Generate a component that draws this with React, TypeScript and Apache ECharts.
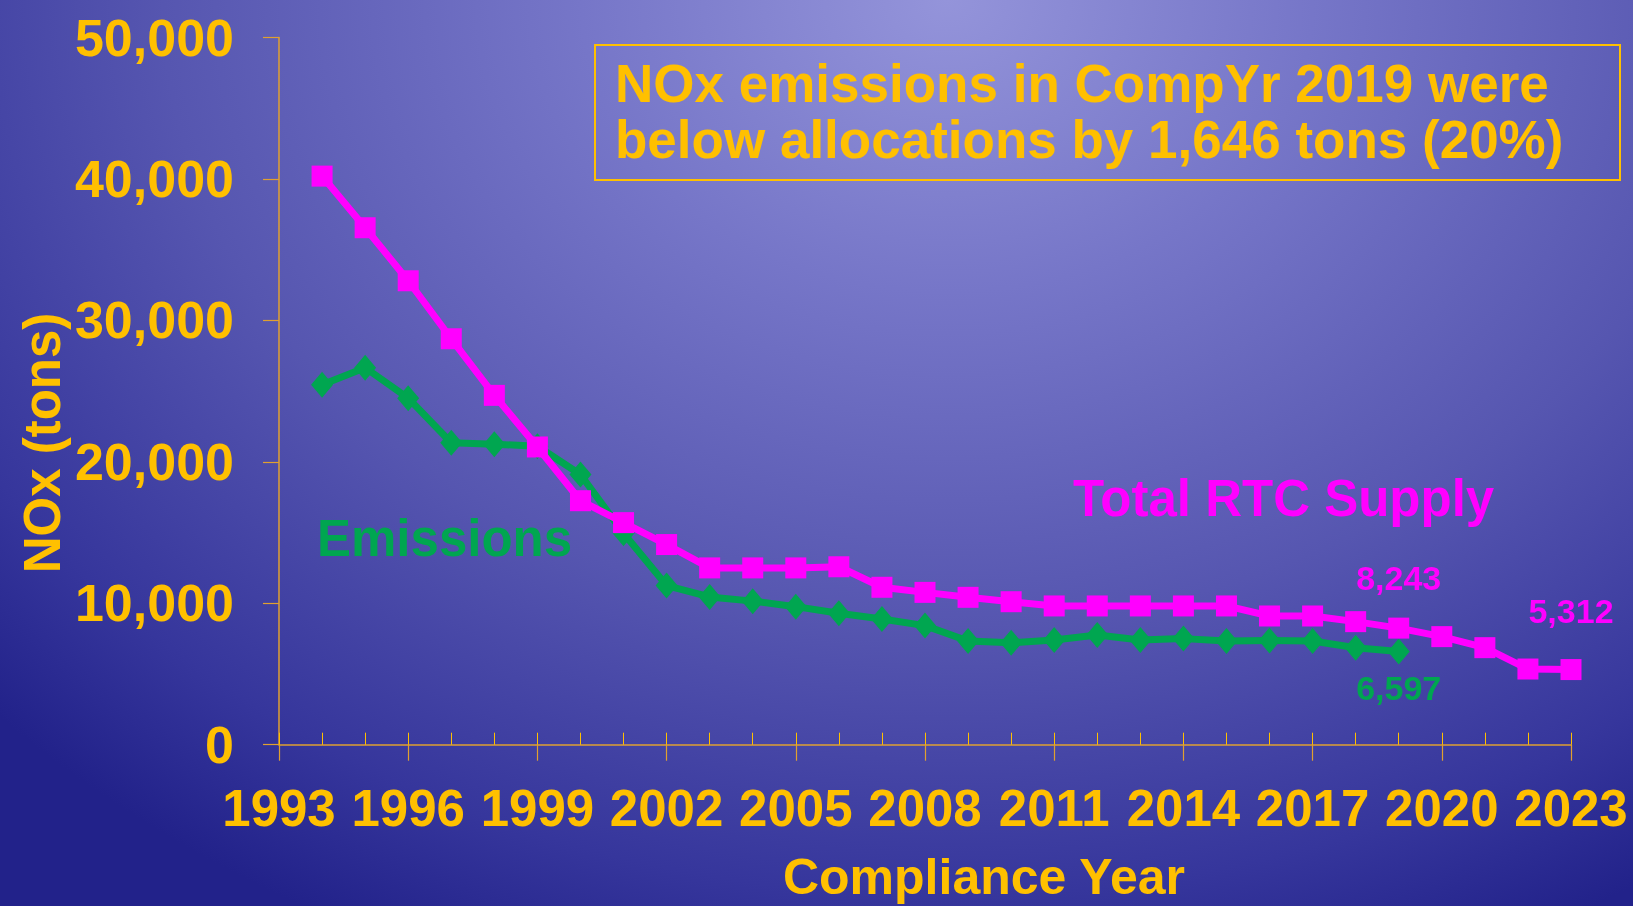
import React, { useEffect, useRef } from "react";
import * as echarts from "echarts";

const supplyYears = [1994, 1995, 1996, 1997, 1998, 1999, 2000, 2001, 2002, 2003, 2004, 2005, 2006, 2007, 2008, 2009, 2010, 2011, 2012, 2013, 2014, 2015, 2016, 2017, 2018, 2019, 2020, 2021, 2022, 2023];
const supplyValues = [40200, 36550, 32800, 28700, 24700, 21050, 17250, 15700, 14150, 12500, 12500, 12500, 12580, 11130, 10770, 10420, 10110, 9810, 9810, 9810, 9810, 9810, 9100, 9100, 8700, 8243, 7640, 6860, 5350, 5312];
const emissionYears = [1994, 1995, 1996, 1997, 1998, 1999, 2000, 2001, 2002, 2003, 2004, 2005, 2006, 2007, 2008, 2009, 2010, 2011, 2012, 2013, 2014, 2015, 2016, 2017, 2018, 2019];
const emissionValues = [25450, 26650, 24500, 21350, 21250, 21100, 19100, 14950, 11250, 10450, 10150, 9760, 9290, 8890, 8420, 7330, 7210, 7400, 7760, 7400, 7500, 7330, 7360, 7330, 6860, 6597];
const yTicks = [0, 10000, 20000, 30000, 40000, 50000];
const xLabelYears = [1993, 1996, 1999, 2002, 2005, 2008, 2011, 2014, 2017, 2020, 2023];

const GOLD = "#FFC000";
const AXIS = "#E0A030";
const PINK = "#FF00FF";
const GREEN = "#00A650";
const FONT = "'Liberation Sans', Arial, sans-serif";

export default function App() {
  const ref = useRef<HTMLDivElement>(null);
  useEffect(() => {
    if (!ref.current) return;
    const chart = echarts.init(ref.current, undefined, { renderer: "svg" });
    const fmt = (v: number) => v.toLocaleString("en-US");
    const supplyData = supplyYears.map((y, i) => {
      const item: any = { value: [y, supplyValues[i]] };
      if (y === 2019) item.label = { show: true, position: "top", distance: 23, formatter: () => fmt(supplyValues[i]) };
      if (y === 2023) item.label = { show: true, position: "top", distance: 31, formatter: () => fmt(supplyValues[i]) };
      return item;
    });
    const emissionData = emissionYears.map((y, i) => {
      const item: any = { value: [y, emissionValues[i]] };
      if (y === 2019) item.label = { show: true, position: "bottom", distance: 7, formatter: () => fmt(emissionValues[i]) };
      return item;
    });
    chart.setOption({
      animation: false,
      textStyle: { fontFamily: FONT },
      grid: { left: 279, right: 62, top: 37.5, bottom: 161.3 },
      xAxis: [
        {
          type: "value",
          min: 1993,
          max: 2023,
          interval: 3,
          axisLine: { show: true, lineStyle: { color: AXIS, width: 1.5 } },
          axisTick: { show: true, inside: false, length: 16, lineStyle: { color: AXIS, width: 1.2 } },
          axisLabel: {
            color: GOLD,
            fontSize: 51,
            fontWeight: "bold",
            fontFamily: FONT,
            margin: 38,
            formatter: (v: number) => (xLabelYears.includes(v) ? String(v) : ""),
          },
          splitLine: { show: false },
        },
        {
          type: "value",
          min: 1993,
          max: 2023,
          interval: 1,
          position: "bottom",
          axisLine: { show: false },
          axisTick: { show: true, inside: true, length: 12, lineStyle: { color: GOLD, width: 1 } },
          axisLabel: { show: false },
          splitLine: { show: false },
        },
      ],
      yAxis: {
        type: "value",
        min: 0,
        max: 50000,
        interval: 10000,
        axisLine: { show: true, lineStyle: { color: AXIS, width: 1.5 } },
        axisTick: { show: true, inside: false, length: 16, lineStyle: { color: AXIS, width: 1.2 } },
        axisLabel: {
          color: GOLD,
          fontSize: 52,
          fontWeight: "bold",
          fontFamily: FONT,
          margin: 45,
          formatter: (v: number) => (yTicks.includes(v) ? fmt(v) : ""),
        },
        splitLine: { show: false },
      },
      series: [
        {
          name: "Total RTC Supply",
          type: "line",
          xAxisIndex: 0,
          data: supplyData,
          symbol: "rect",
          symbolSize: 21,
          lineStyle: { color: PINK, width: 7 },
          itemStyle: { color: PINK },
          label: { color: PINK, fontSize: 34, fontWeight: "bold", fontFamily: FONT },
          z: 3,
        },
        {
          name: "Emissions",
          type: "line",
          xAxisIndex: 0,
          data: emissionData,
          symbol: "diamond",
          symbolSize: [22, 26],
          lineStyle: { color: GREEN, width: 7 },
          itemStyle: { color: GREEN },
          label: { color: GREEN, fontSize: 34, fontWeight: "bold", fontFamily: FONT },
          z: 2,
        },
      ],
      graphic: [
        {
          type: "text",
          x: 42,
          y: 443,
          rotation: Math.PI / 2,
          style: {
            text: "NOx (tons)",
            fill: GOLD,
            font: `bold 51px ${FONT}`,
            textAlign: "center",
            textVerticalAlign: "middle",
          },
          z: 10,
        },
        {
          type: "text",
          x: 984,
          y: 877,
          style: {
            text: "Compliance Year",
            fill: GOLD,
            font: `bold 50px ${FONT}`,
            lineHeight: 50,
            textAlign: "center",
            textVerticalAlign: "middle",
          },
          z: 10,
        },
        {
          type: "rect",
          shape: { x: 595, y: 45, width: 1025, height: 135 },
          style: { fill: "none", stroke: GOLD, lineWidth: 2 },
          z: 10,
        },
        {
          type: "text",
          x: 615,
          y: 83,
          style: {
            text: "NOx emissions in CompYr 2019 were",
            fill: GOLD,
            font: `bold 53px ${FONT}`,
            textVerticalAlign: "middle",
          },
          z: 10,
        },
        {
          type: "text",
          x: 615,
          y: 139,
          style: {
            text: "below allocations by 1,646 tons (20%)",
            fill: GOLD,
            font: `bold 53px ${FONT}`,
            textVerticalAlign: "middle",
          },
          z: 10,
        },
        {
          type: "text",
          x: 317,
          y: 538,
          style: { text: "Emissions", fill: GREEN, font: `bold 51px ${FONT}`, textVerticalAlign: "middle" },
          z: 10,
        },
        {
          type: "text",
          x: 1073,
          y: 498,
          style: { text: "Total RTC Supply", fill: PINK, font: `bold 51px ${FONT}`, textVerticalAlign: "middle" },
          z: 10,
        },
      ],
    });
    return () => chart.dispose();
  }, []);
  return (
    <div
      ref={ref}
      style={{
        position: "fixed",
        left: 0,
        top: 0,
        width: 1633,
        height: 906,
        background:
          "radial-gradient(ellipse 80% 115% at 58% 0%, #9494DA 0%, #7676C8 28%, #5656B0 60%, #36369C 86%, #22228A 100%)",
      }}
    />
  );
}
